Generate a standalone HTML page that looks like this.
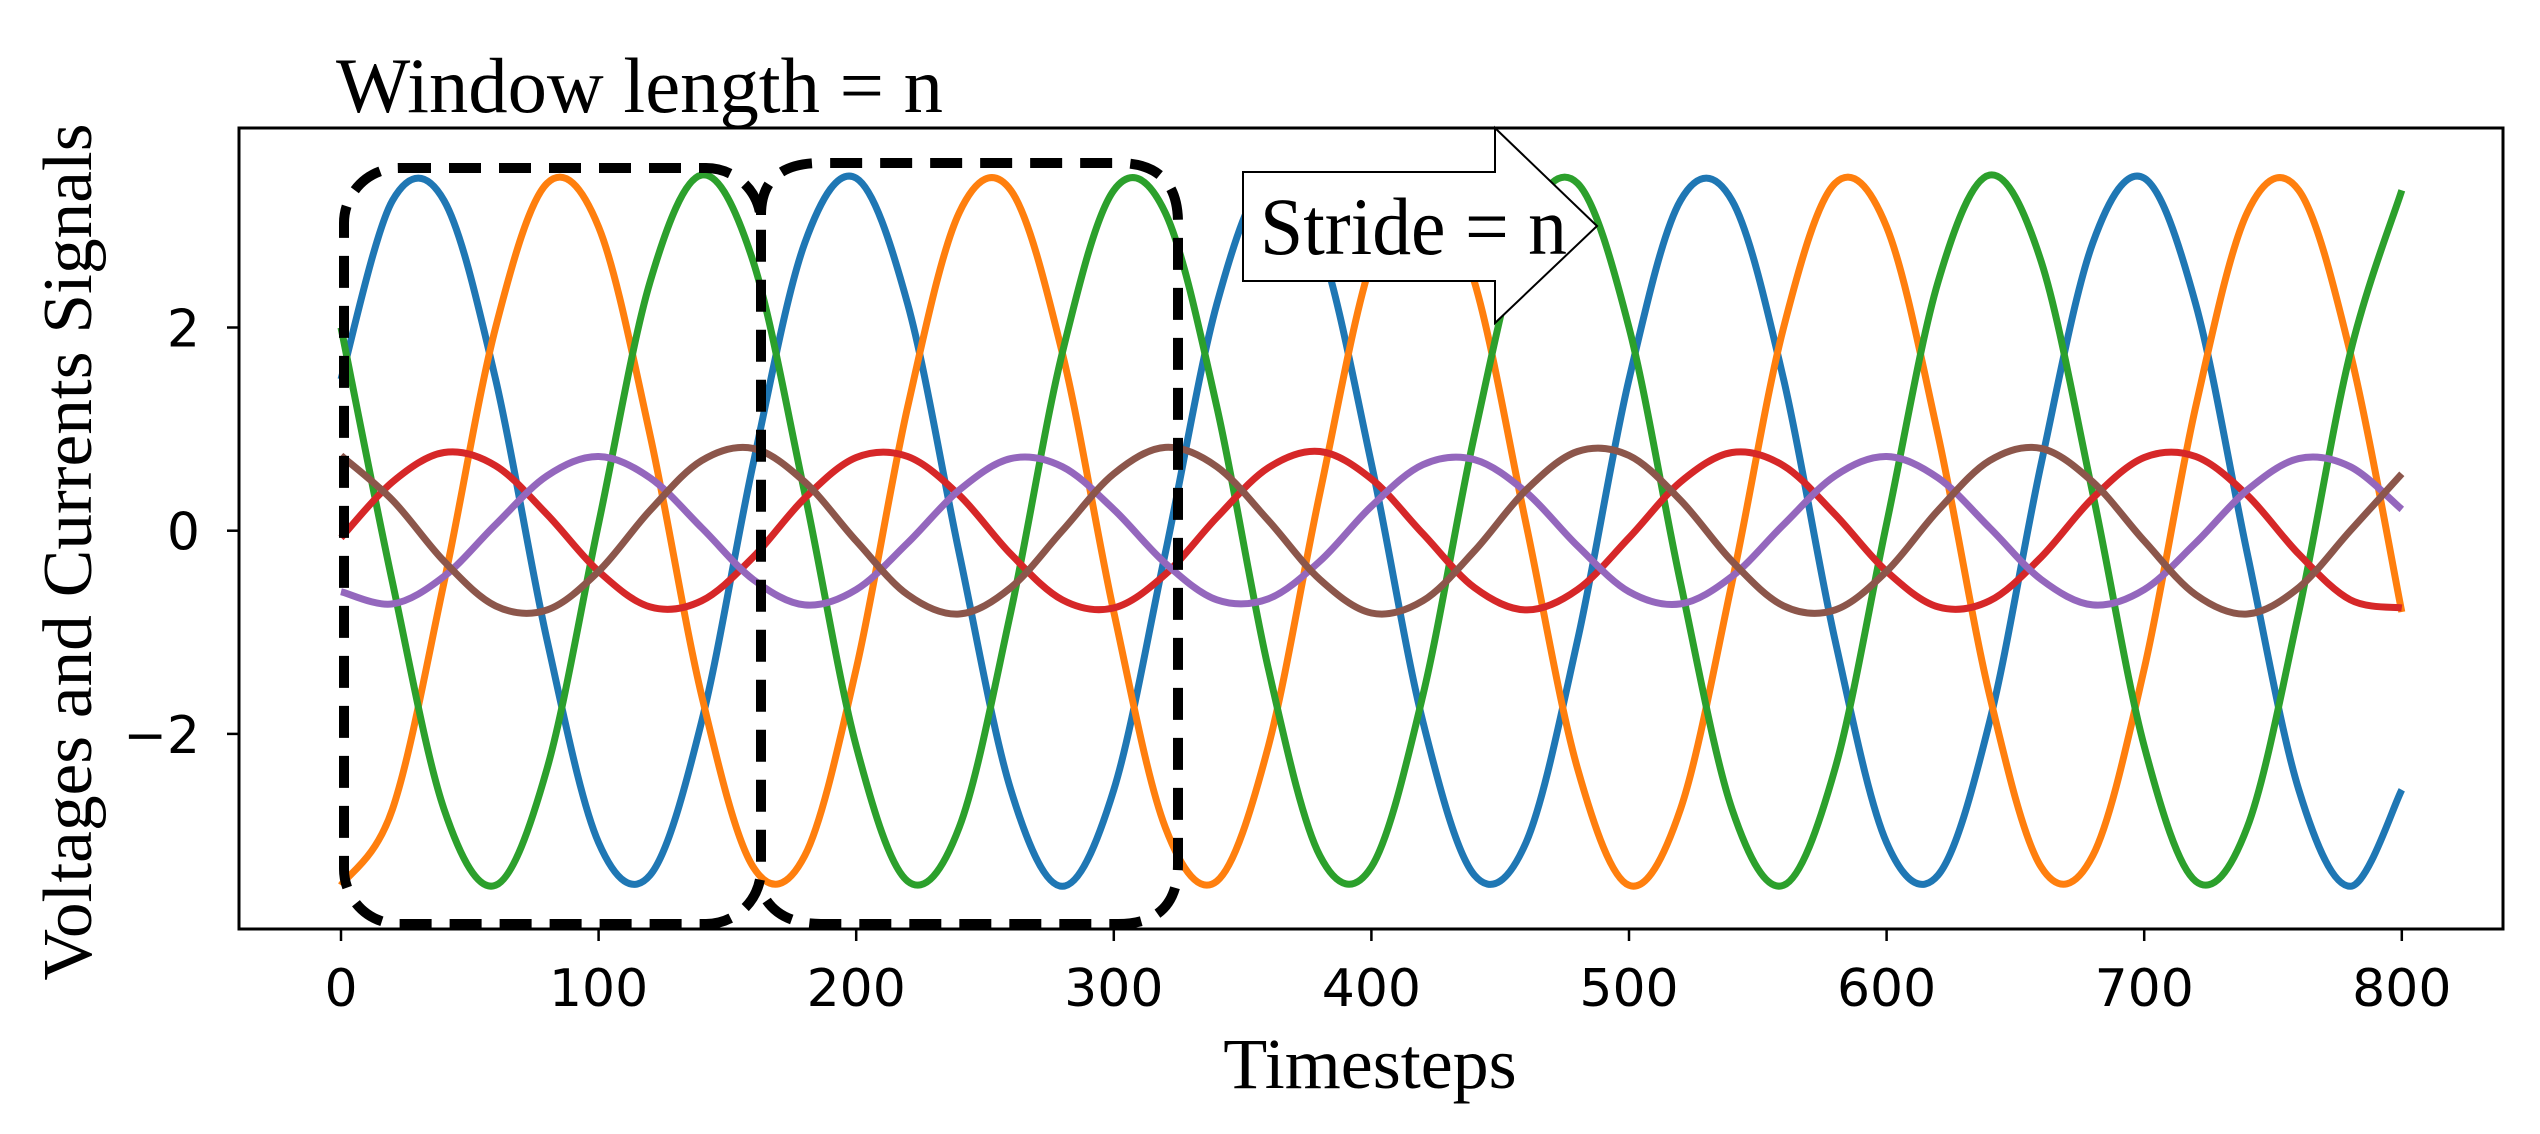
<!DOCTYPE html>
<html><head><meta charset="utf-8"><style>
html,body{margin:0;padding:0;background:#fff;}
svg{display:block;}
</style></head><body>
<svg id="chart" width="2540" height="1134" viewBox="0 0 2540 1134" xmlns="http://www.w3.org/2000/svg">
  <rect x="0" y="0" width="2540" height="1134" fill="#fff"/>
  <g id="lines"></g>
  <rect x="239" y="128" width="2264" height="801" fill="none" stroke="#000" stroke-width="3"/>
  <g id="xticks"></g>
  <g id="yticks"></g>
  <text x="1370" y="1088" font-family="Liberation Serif, serif" font-size="72" text-anchor="middle">Timesteps</text>
  <text transform="translate(91,552) rotate(-90)" font-family="Liberation Serif, serif" font-size="70" text-anchor="middle" textLength="857" lengthAdjust="spacingAndGlyphs">Voltages and Currents Signals</text>
  <text x="336" y="112" font-family="Liberation Serif, serif" font-size="78" textLength="607" lengthAdjust="spacingAndGlyphs">Window length = n</text>
  <rect x="344" y="168" width="417" height="756" rx="55" ry="55" fill="none" stroke="#000" stroke-width="10" stroke-dasharray="32 18"/>
  <path d="M761,215 Q761,163 821,163 L1118,163 Q1178,163 1178,223 L1178,864 Q1178,924 1118,924 L821,924 Q775,924 761,890" fill="none" stroke="#000" stroke-width="10" stroke-dasharray="32 18"/>
  <polygon points="1243,172 1495,172 1495,128 1597,226 1495,323 1495,281 1243,281" fill="#fff" stroke="#000" stroke-width="2"/>
  <text x="1260" y="254" font-family="Liberation Serif, serif" font-size="82" textLength="307" lengthAdjust="spacingAndGlyphs">Stride = n</text>
</svg>
<script>
const timesteps = [0,20,40,60,80,100,120,140,160,180,200,220,240,260,280,300,320,340,360,380,400,420,440,460,480,500,520,540,560,580,600,620,640,660,680,700,720,740,760,780,800];
const blueVals = [1.49,3.25,3.25,1.49,-1.08,-3.07,-3.39,-1.88,0.66,2.83,3.47,2.23,-0.22,-2.55,-3.50,-2.55,-0.22,2.23,3.47,2.83,0.66,-1.88,-3.39,-3.07,-1.08,1.49,3.25,3.25,1.49,-1.08,-3.07,-3.39,-1.88,0.66,2.83,3.47,2.23,-0.22,-2.55,-3.50,-2.55];
const orangeVals = [-3.49,-2.74,-0.51,2.00,3.42,2.99,0.94,-1.62,-3.31,-3.20,-1.36,1.22,3.13,3.35,1.75,-0.80,-2.92,-3.45,-2.12,0.37,2.65,3.50,2.45,0.07,-2.34,-3.49,-2.74,-0.51,2.00,3.42,2.99,0.94,-1.62,-3.31,-3.20,-1.36,1.22,3.13,3.35,1.75,-0.80];
const greenVals = [2.00,-0.51,-2.74,-3.49,-2.34,0.07,2.45,3.50,2.65,0.37,-2.12,-3.45,-2.92,-0.80,1.75,3.35,3.13,1.22,-1.36,-3.20,-3.31,-1.62,0.94,2.99,3.42,2.00,-0.51,-2.74,-3.49,-2.34,0.07,2.45,3.50,2.65,0.37,-2.12,-3.45,-2.92,-0.80,1.75,3.35];
const redVals = [-0.07,0.48,0.77,0.64,0.16,-0.40,-0.75,-0.69,-0.26,0.32,0.72,0.73,0.35,-0.23,-0.68,-0.76,-0.43,0.13,0.62,0.78,0.51,-0.03,-0.56,-0.78,-0.58,-0.07,0.48,0.77,0.64,0.16,-0.40,-0.75,-0.69,-0.26,0.32,0.72,0.73,0.35,-0.23,-0.68,-0.76];
const purpleVals = [-0.60,-0.72,-0.45,0.06,0.54,0.73,0.52,0.03,-0.48,-0.73,-0.58,-0.12,0.40,0.71,0.63,0.21,-0.32,-0.68,-0.67,-0.30,0.24,0.65,0.70,0.38,-0.15,-0.60,-0.72,-0.45,0.06,0.54,0.73,0.52,0.03,-0.48,-0.73,-0.58,-0.12,0.40,0.71,0.63,0.21];
const brownVals = [0.74,0.30,-0.30,-0.74,-0.78,-0.40,0.20,0.69,0.81,0.48,-0.10,-0.63,-0.82,-0.56,0.00,0.56,0.82,0.63,0.10,-0.48,-0.81,-0.69,-0.20,0.40,0.78,0.74,0.30,-0.30,-0.74,-0.78,-0.40,0.20,0.69,0.81,0.48,-0.10,-0.63,-0.82,-0.56,0.00,0.56];
const xTickVals = [0,100,200,300,400,500,600,700,800];
const yTickVals = [2,0,-2];
const yTickLabels = ["2","0","\u22122"];

const NS = "http://www.w3.org/2000/svg";
function xs(t){ return 341 + t * 2.576; }
function ys(v){ return 530.7 - v * 101.6; }

const seriesList = [
  {name:"series-blue", vals:blueVals, color:"#1f77b4"},
  {name:"series-orange", vals:orangeVals, color:"#ff7f0e"},
  {name:"series-green", vals:greenVals, color:"#2ca02c"},
  {name:"series-red", vals:redVals, color:"#d62728"},
  {name:"series-purple", vals:purpleVals, color:"#9467bd"},
  {name:"series-brown", vals:brownVals, color:"#8c564b"}
];
const linesG = document.getElementById("lines");
seriesList.forEach(s => {
  const pts = timesteps.map((t,i) => [xs(t), ys(s.vals[i])]);
  let d = "M" + pts[0][0].toFixed(1) + "," + pts[0][1].toFixed(1);
  for (let i = 0; i < pts.length - 1; i++) {
    const p0 = pts[Math.max(i-1,0)], p1 = pts[i], p2 = pts[i+1], p3 = pts[Math.min(i+2,pts.length-1)];
    const c1x = p1[0] + (p2[0]-p0[0])/6, c1y = p1[1] + (p2[1]-p0[1])/6;
    const c2x = p2[0] - (p3[0]-p1[0])/6, c2y = p2[1] - (p3[1]-p1[1])/6;
    d += " C" + c1x.toFixed(1) + "," + c1y.toFixed(1) + " " + c2x.toFixed(1) + "," + c2y.toFixed(1) + " " + p2[0].toFixed(1) + "," + p2[1].toFixed(1);
  }
  const path = document.createElementNS(NS, "path");
  path.setAttribute("d", d);
  path.setAttribute("fill", "none");
  path.setAttribute("stroke", s.color);
  path.setAttribute("stroke-width", "7");
  path.setAttribute("stroke-linejoin", "round");
  
  
  linesG.appendChild(path);
});

const xg = document.getElementById("xticks");
xTickVals.forEach(v => {
  const x = xs(v);
  const ln = document.createElementNS(NS, "line");
  ln.setAttribute("x1", x); ln.setAttribute("x2", x);
  ln.setAttribute("y1", 929); ln.setAttribute("y2", 941);
  ln.setAttribute("stroke", "#000"); ln.setAttribute("stroke-width", "2.5");
  
  
  xg.appendChild(ln);
  const tx = document.createElementNS(NS, "text");
  tx.setAttribute("x", x); tx.setAttribute("y", 1006);
  tx.setAttribute("text-anchor", "middle");
  tx.setAttribute("font-family", "DejaVu Sans, sans-serif");
  tx.setAttribute("font-size", "52");
  tx.textContent = String(v);
  
  
  xg.appendChild(tx);
});
const yg = document.getElementById("yticks");
yTickVals.forEach((v,i) => {
  const y = ys(v);
  const ln = document.createElementNS(NS, "line");
  ln.setAttribute("x1", 227); ln.setAttribute("x2", 239);
  ln.setAttribute("y1", y); ln.setAttribute("y2", y);
  ln.setAttribute("stroke", "#000"); ln.setAttribute("stroke-width", "2.5");
  
  
  yg.appendChild(ln);
  const tx = document.createElementNS(NS, "text");
  tx.setAttribute("x", 200); tx.setAttribute("y", y + 19);
  tx.setAttribute("text-anchor", "end");
  tx.setAttribute("font-family", "DejaVu Sans, sans-serif");
  tx.setAttribute("font-size", "52");
  tx.textContent = yTickLabels[i];
  
  
  yg.appendChild(tx);
});
</script>
</body></html>
